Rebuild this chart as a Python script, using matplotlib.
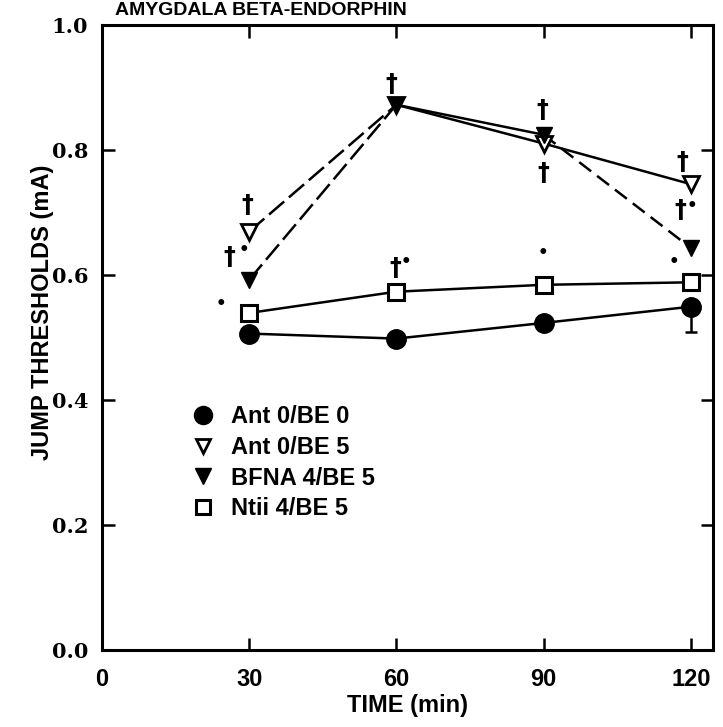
import matplotlib
matplotlib.use("Agg")
import matplotlib.pyplot as plt
from matplotlib.lines import Line2D

# values
times = [30, 60, 90, 120]
ant0_be0 = [0.506, 0.498, 0.523, 0.549]
ant0_be0_err = [0, 0, 0, 0.040]
ant0_be5 = [0.669, 0.872, 0.810, 0.745]
bfna4_be5 = [0.592, 0.872, 0.824, 0.643]
ntii4_be5 = [0.539, 0.573, 0.584, 0.588]
labels = ['Ant 0/BE 0', 'Ant 0/BE 5', 'BFNA 4/BE 5', 'Ntii 4/BE 5']

# significance marks (time, value, symbol)
mark_t = [29.6, 25.9, 29.0, 24.3, 59.0, 59.8, 62.0, 89.8, 90.0, 89.9, 118.2, 117.8, 120.2, 116.5]
mark_v = [0.712, 0.629, 0.640, 0.554, 0.905, 0.611, 0.621, 0.864, 0.763, 0.635, 0.781, 0.704, 0.710, 0.621]
mark_s = ["†", "†", "•", "•", "†", "†", "•", "†", "†", "•", "†", "†", "•", "•"]

plt.rcParams['font.family'] = ['Liberation Sans', 'DejaVu Sans']
plt.rcParams['font.weight'] = 'bold'

fig = plt.figure(figsize=(7.23, 7.27), dpi=100)
ax = fig.add_axes([0.141, 0.106, 0.845, 0.860])

lw = 1.8
ax.errorbar(times, ant0_be0, yerr=[ant0_be0_err, [0, 0, 0, 0]], color='black', lw=lw,
            marker='o', ms=14, mfc='black', mec='black', capsize=4, elinewidth=1.8,
            capthick=1.8, zorder=3)
# open triangles: dashed first segment, the rest solid
ax.plot(times[:2], ant0_be5[:2], color='black', lw=lw, ls=(0, (8, 2.5)))
ax.plot(times[1:], ant0_be5[1:], color='black', lw=lw)
ax.plot(times, ant0_be5, ls='none', marker='v', ms=12, mfc='white', mec='black', mew=2,
        zorder=4)
# filled triangles
ax.plot(times[:2], bfna4_be5[:2], color='black', lw=lw, ls=(0, (8, 2.5)))
ax.plot(times[1:3], bfna4_be5[1:3], color='black', lw=lw)
ax.plot(times[2:], bfna4_be5[2:], color='black', lw=lw, ls=(0, (6, 3)))
ax.plot(times, bfna4_be5, ls='none', marker='v', ms=12, mfc='black', mec='black', zorder=5)
# squares
ax.plot(times, ntii4_be5, color='black', lw=lw, marker='s', ms=11, mfc='white',
        mec='black', mew=2.2, zorder=4)

for t, v, s in zip(mark_t, mark_v, mark_s):
    fs = 17 if s == "†" else 12
    ax.text(t, v, s, ha='center', va='center', fontsize=fs, fontweight='bold',
            family=['DejaVu Sans'])

ax.set_xlim(0, 124.5)
ax.set_ylim(0, 1.0)
ax.set_xticks([0, 30, 60, 90, 120])
ax.set_yticks([0.0, 0.2, 0.4, 0.6, 0.8, 1.0])
ax.set_yticklabels(['0.0', '0.2', '0.4', '0.6', '0.8', '1.0'])
ax.tick_params(direction='in', length=9, width=1.8, top=True, right=True)
ax.tick_params(axis='x', labelsize=17, pad=13)
ax.tick_params(axis='y', labelsize=15, pad=10)
for lab in ax.get_xticklabels():
    lab.set_fontweight('bold')
for lab in ax.get_yticklabels():
    lab.set_fontweight('bold')
    lab.set_family(['DejaVu Serif'])
for sp in ax.spines.values():
    sp.set_linewidth(2.2)

ax.set_xlabel('TIME (min)', fontsize=17, fontweight='bold')
ax.xaxis.set_label_coords(0.5, -0.07)
ax.set_ylabel('JUMP THRESHOLDS (mA)', fontsize=17, fontweight='bold')
ax.yaxis.set_label_coords(-0.078, 0.54)

fig.text(0.159, 0.979, 'AMYGDALA BETA-ENDORPHIN', fontsize=14, fontweight='bold',
         va='baseline', ha='left')

handles = [Line2D([], [], ls='none', marker='o', ms=13, mfc='black', mec='black'),
           Line2D([], [], ls='none', marker='v', ms=10, mfc='white', mec='black', mew=2),
           Line2D([], [], ls='none', marker='v', ms=11, mfc='black', mec='black'),
           Line2D([], [], ls='none', marker='s', ms=10, mfc='white', mec='black', mew=2.2)]
ax.legend(handles, labels, loc='upper left', bbox_to_anchor=(0.127, 0.41), frameon=False,
          prop={'size': 17, 'weight': 'bold'}, handlelength=1.0, borderpad=0,
          handletextpad=0.7, labelspacing=0.32)

fig.savefig('out.png', dpi=100)
